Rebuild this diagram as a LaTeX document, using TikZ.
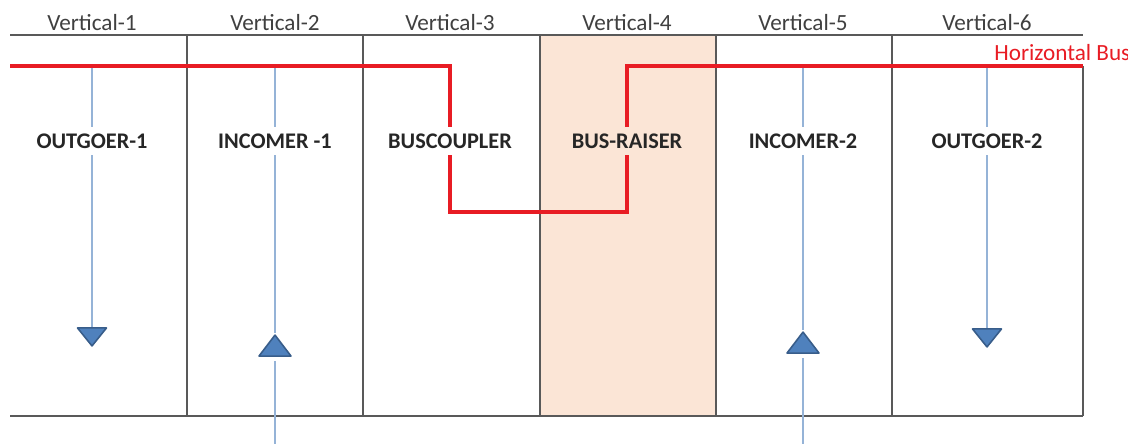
\documentclass[tikz,border=0pt]{standalone}
\usepackage{fontspec}
\setmainfont{Carlito}
\usetikzlibrary{arrows.meta,positioning,calc,shapes.geometric}
\definecolor{panelgray}{RGB}{89,89,89}
\definecolor{busred}{RGB}{232,28,36}
\definecolor{feedblue}{RGB}{149,179,215}
\definecolor{trifill}{RGB}{79,129,189}
\definecolor{tridraw}{RGB}{56,93,138}
\definecolor{raiserfill}{RGB}{251,229,214}
\tikzset{
  headlbl/.style={font=\fontsize{13.2}{15}\selectfont, text=black!75, anchor=base, inner sep=0pt},
  feedlbl/.style={font=\fontsize{12.7}{14}\selectfont\bfseries, text=black!85, minimum height=0.56cm, inner sep=0pt},
  panelline/.style={draw=panelgray, line width=1.1pt},
  busline/.style={draw=busred, line width=1.8pt},
  feeder/.style={draw=feedblue, line width=0.9pt},
  tribox/.style={isosceles triangle, isosceles triangle stretches, fill=trifill, draw=tridraw, line width=0.9pt, line join=round, inner sep=0pt, anchor=apex},
  tridown/.style={tribox, shape border rotate=270, minimum width=0.58cm, minimum height=0.36cm},
  triup/.style={tribox, shape border rotate=90, minimum width=0.64cm, minimum height=0.42cm},
}

\begin{document}
\begin{tikzpicture}[x=0.02cm, y=-0.02cm]
  \useasboundingbox (0,0) rectangle (1128,443);

  % bus-raiser panel
  \fill[raiserfill] (540,35) rectangle (716,416);

  % panel outline
  \draw[panelline] (10,35) -- (1083,35);
  \draw[panelline] (10,416) -- (1083,416);
  \draw[panelline] (1083,66) -- (1083,416);
  \foreach \x in {187,363,540,716,892}
    \draw[panelline] (\x,35) -- (\x,416);

  \node[headlbl] (v1) at (92,30)  {Vertical-1};
  \node[headlbl] (v2) at (275,30) {Vertical-2};
  \node[headlbl] (v3) at (450,30) {Vertical-3};
  \node[headlbl] (v4) at (627,30) {Vertical-4};
  \node[headlbl] (v5) at (803,30) {Vertical-5};
  \node[headlbl] (v6) at (987,30) {Vertical-6};
  \node[headlbl, anchor=base west, text=busred] (hbus) at (994,60) {Horizontal Bus};

  \node[feedlbl] (O1) at (92,141)  {OUTGOER-1};
  \node[feedlbl] (I1) at (275,141) {INCOMER -1};
  \node[feedlbl] (BC) at (450,141) {BUSCOUPLER};
  \node[feedlbl] (BR) at (627,141) {BUS-RAISER};
  \node[feedlbl] (I2) at (803,141) {INCOMER-2};
  \node[feedlbl] (O2) at (987,141) {OUTGOER-2};

  \node[tridown] (t1) at (92,348)  {};
  \node[triup]   (t2) at (275,333) {};
  \node[triup]   (t5) at (803,330) {};
  \node[tridown] (t6) at (987,349) {};

  \coordinate (busW) at (10,66);
  \coordinate (busE) at (1083,66);
  \coordinate (cpl) at (450,212);
  \coordinate (o1top) at (92,66);
  \coordinate (i1top) at (275,66);
  \coordinate (i2top) at (803,66);
  \coordinate (o2top) at (987,66);
  \coordinate (i1feed) at (275,445);
  \coordinate (i2feed) at (803,445);

  % feeders
  \draw[feeder] (o1top) -- (O1.north);
  \draw[feeder] (O1.south) -- (t1.north);
  \draw[feeder] (i1top) -- (I1.north);
  \draw[feeder] (I1.south) -- (t2.apex);
  \draw[feeder, shorten >=0.09cm] (i1feed) -- (t2.south);
  \draw[feeder] (i2top) -- (I2.north);
  \draw[feeder] (I2.south) -- (t5.apex);
  \draw[feeder, shorten >=0.09cm] (i2feed) -- (t5.south);
  \draw[feeder] (o2top) -- (O2.north);
  \draw[feeder] (O2.south) -- (t6.north);

  % horizontal bus through coupler and raiser
  \draw[busline] (busW) -| (BC.north);
  \draw[busline] (BC.south) -- (cpl) -| (BR.south);
  \draw[busline] (BR.north) |- (busE);
\end{tikzpicture}
\end{document}
